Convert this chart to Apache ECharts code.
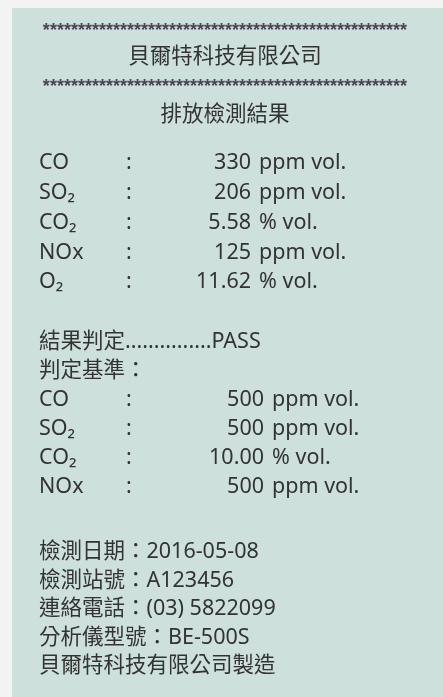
<!DOCTYPE html>
<html><head><meta charset="utf-8">
<script src="https://cdn.jsdelivr.net/npm/echarts@6/dist/echarts.min.js"></script>
<style>html,body{margin:0;padding:0;background:#f3f3f3;}#c{width:443px;height:697px;}</style>
</head><body><div id="c"></div>
<script>
// ---- content ----
const companyName = '貝爾特科技有限公司';
const reportTitle = '排放檢測結果';
const starCount = 52;
const gases = ['CO', 'SO₂', 'CO₂', 'NOx', 'O₂'];
const measured = ['330', '206', '5.58', '125', '11.62'];
const measuredUnits = ['ppm vol.', 'ppm vol.', '% vol.', 'ppm vol.', '% vol.'];
const verdictLabel = '結果判定';
const verdictDots = 15;
const verdict = 'PASS';
const standardLabel = '判定基準：';
const limitGases = ['CO', 'SO₂', 'CO₂', 'NOx'];
const limits = ['500', '500', '10.00', '500'];
const limitUnits = ['ppm vol.', 'ppm vol.', '% vol.', 'ppm vol.'];
const infoLabels = ['檢測日期', '檢測站號', '連絡電話', '分析儀型號'];
const infoValues = ['2016-05-08', 'A123456', '(03) 5822099', 'BE-500S'];
const footer = '貝爾特科技有限公司製造';

// ---- layout ----
const FONT = '"Noto Sans", "Noto Sans CJK TC", sans-serif';
const COLOR = '#333333';
const SIZE = 21.5;
const CJK = 21.5;
const cx = 225, labelX = 39, colonX = 126;
const g = [];
function txt(text, x, y, align, size, extra) {
  g.push(Object.assign({
    type: 'text', x: x, y: y,
    style: { text: text, fill: COLOR, font: size + 'px ' + FONT, textAlign: align || 'left', textVerticalAlign: 'middle' }
  }, extra || {}));
}
g.push({ type: 'rect', shape: { x: 12, y: 8, width: 440, height: 700 }, style: { fill: '#cde0dc' } });

const stars = '*'.repeat(starCount);
const starStyle = { text: stars, fill: '#4a4550', font: 'bold 18px "Liberation Sans"', textAlign: 'center', textVerticalAlign: 'middle' };
g.push({ type: 'text', x: cx, y: 31, style: Object.assign({}, starStyle) });
txt(companyName, cx, 57, 'center', CJK);
g.push({ type: 'text', x: cx, y: 87, style: Object.assign({}, starStyle) });
txt(reportTitle, cx, 115, 'center', CJK);

function rows(names, nums, units, y0, step, numX) {
  names.forEach(function (n, i) {
    const y = y0 + i * step;
    txt(n, labelX, y, 'left', SIZE);
    txt(':', colonX, y, 'left', SIZE);
    txt(nums[i], numX, y, 'right', SIZE);
    txt(units[i], numX + 8, y, 'left', SIZE);
  });
}
rows(gases, measured, measuredUnits, 163, 29.8, 251);

txt(verdictLabel + '.'.repeat(verdictDots) + verdict, labelX, 342, 'left', SIZE);
txt(standardLabel, labelX, 371, 'left', SIZE);
rows(limitGases, limits, limitUnits, 400, 29, 264);

infoLabels.forEach(function (l, i) {
  txt(l + '：' + infoValues[i], labelX, 552 + i * 28.5, 'left', SIZE);
});
txt(footer, labelX, 552 + 4 * 28.5, 'left', SIZE);

const chart = echarts.init(document.getElementById('c'), null, { renderer: 'canvas' });
chart.setOption({ animation: false, backgroundColor: '#f3f3f3', graphic: { elements: g } });
</script></body></html>
